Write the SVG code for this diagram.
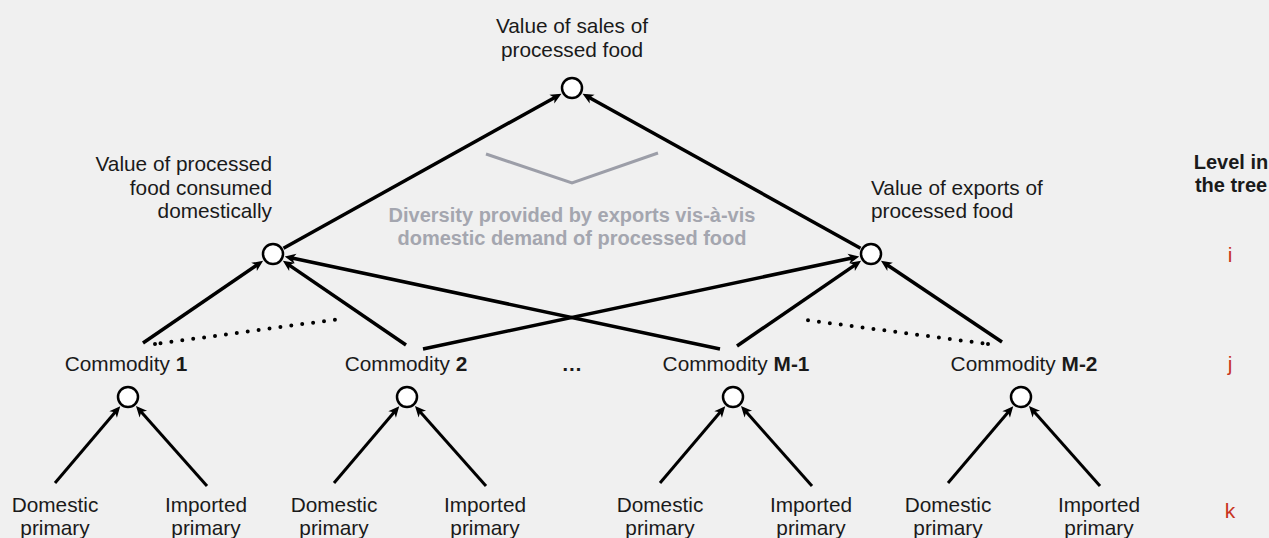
<svg xmlns="http://www.w3.org/2000/svg" width="1269" height="538" viewBox="0 0 1269 538">
  <defs>
    <marker id="arr" markerUnits="userSpaceOnUse" markerWidth="14" markerHeight="12" refX="6" refY="5" orient="auto" overflow="visible">
      <path d="M0,0 L11,5 L0,10 L3,5 Z" fill="#000"/>
    </marker>
    <style>
      .t { font-family: "Liberation Sans", Arial, sans-serif; font-size: 20.8px; fill: #1a1a1a; }
      .b { font-weight: bold; }
      .lg { font-size: 20px; }
      .g { font-family: "Liberation Sans", Arial, sans-serif; font-size: 20px; font-weight: bold; fill: #a4a6af; }
      .r { font-family: "Liberation Sans", Arial, sans-serif; font-size: 21px; fill: #c8341e; }
      .n { fill: #fff; stroke: #000; stroke-width: 2.5; }
      .e { stroke: #000; stroke-width: 3.5; fill: none; marker-end: url(#arr); }
      .eb { stroke: #000; stroke-width: 3; fill: none; marker-end: url(#arr); }
      .d { stroke: #000; stroke-width: 4; stroke-linecap: round; stroke-dasharray: 0 11; fill: none; }
    </style>
  </defs>
  <rect width="1269" height="538" fill="#f0f0f0"/>

  <g id="connectors">
    <line class="e" x1="283.5" y1="248.2" x2="557.1" y2="96.2"/>
    <line class="e" x1="860.5" y1="248.2" x2="586.9" y2="96.2"/>
    <line class="e" x1="143" y1="343" x2="259" y2="263.6"/>
    <line class="e" x1="406" y1="345" x2="287" y2="263.6"/>
    <line class="e" x1="423" y1="349" x2="854.4" y2="257.5"/>
    <line class="e" x1="720" y1="349" x2="289.6" y2="257.5"/>
    <line class="e" x1="737" y1="346" x2="857" y2="263.6"/>
    <line class="e" x1="1002" y1="342" x2="885.1" y2="263.5"/>
    <path class="d" d="M155,344 L160.5,343.3 M160.5,343.3 L340,319"/>
    <path class="d" d="M988,344 L982.5,343.3 M982.5,343.3 L806,320"/>
    <line class="eb" x1="55" y1="483" x2="117" y2="410"/>
    <line class="eb" x1="207" y1="486" x2="139.3" y2="409.7"/>
    <line class="eb" x1="334" y1="483" x2="396" y2="410"/>
    <line class="eb" x1="486" y1="486" x2="418.3" y2="409.7"/>
    <line class="eb" x1="660" y1="483" x2="722" y2="410"/>
    <line class="eb" x1="812" y1="486" x2="744.3" y2="409.7"/>
    <line class="eb" x1="948" y1="483" x2="1010" y2="410"/>
    <line class="eb" x1="1100" y1="486" x2="1032.3" y2="409.7"/>
  </g>

  <g id="diversity">
    <polyline points="486,154 572,183 658,153" fill="none" stroke="#9c9ea8" stroke-width="3"/>
    <text class="g" text-anchor="middle"><tspan x="572" y="222">Diversity provided by exports vis-à-vis</tspan><tspan x="572" y="245">domestic demand of processed food</tspan></text>
  </g>

  <g id="node-sales">
    <circle class="n" cx="572" cy="88" r="10"/>
    <text class="t" text-anchor="middle"><tspan x="572" y="33">Value of sales of</tspan><tspan x="572" y="57">processed food</tspan></text>
  </g>
  <g id="node-domestic">
    <circle class="n" cx="273" cy="254" r="10"/>
    <text class="t" text-anchor="end"><tspan x="272" y="171">Value of processed</tspan><tspan x="272" y="194.5">food consumed</tspan><tspan x="272" y="218">domestically</tspan></text>
  </g>
  <g id="node-exports">
    <circle class="n" cx="871" cy="254" r="10"/>
    <text class="t"><tspan x="871" y="194.5">Value of exports of</tspan><tspan x="871" y="218">processed food</tspan></text>
  </g>

  <g id="node-c1">
    <text class="t" x="126" y="371" text-anchor="middle">Commodity <tspan class="b">1</tspan></text>
    <circle class="n" cx="128" cy="397" r="10"/>
  </g>
  <g id="node-c2">
    <text class="t" x="406" y="371" text-anchor="middle">Commodity <tspan class="b">2</tspan></text>
    <circle class="n" cx="407" cy="397" r="10"/>
  </g>
  <g id="ellipsis">
    <text class="t b" x="572" y="371" text-anchor="middle">…</text>
  </g>
  <g id="node-cm1">
    <text class="t" x="736" y="371" text-anchor="middle">Commodity <tspan class="b">M-1</tspan></text>
    <circle class="n" cx="733" cy="397" r="10"/>
  </g>
  <g id="node-cm2">
    <text class="t" x="1024" y="371" text-anchor="middle">Commodity <tspan class="b">M-2</tspan></text>
    <circle class="n" cx="1021" cy="397" r="10"/>
  </g>

  <g id="leaf-d1"><text class="t" text-anchor="middle"><tspan x="55" y="512">Domestic</tspan><tspan x="55" y="535">primary</tspan></text></g>
  <g id="leaf-i1"><text class="t" text-anchor="middle"><tspan x="206" y="512">Imported</tspan><tspan x="206" y="535">primary</tspan></text></g>
  <g id="leaf-d2"><text class="t" text-anchor="middle"><tspan x="334" y="512">Domestic</tspan><tspan x="334" y="535">primary</tspan></text></g>
  <g id="leaf-i2"><text class="t" text-anchor="middle"><tspan x="485" y="512">Imported</tspan><tspan x="485" y="535">primary</tspan></text></g>
  <g id="leaf-d3"><text class="t" text-anchor="middle"><tspan x="660" y="512">Domestic</tspan><tspan x="660" y="535">primary</tspan></text></g>
  <g id="leaf-i3"><text class="t" text-anchor="middle"><tspan x="811" y="512">Imported</tspan><tspan x="811" y="535">primary</tspan></text></g>
  <g id="leaf-d4"><text class="t" text-anchor="middle"><tspan x="948" y="512">Domestic</tspan><tspan x="948" y="535">primary</tspan></text></g>
  <g id="leaf-i4"><text class="t" text-anchor="middle"><tspan x="1099" y="512">Imported</tspan><tspan x="1099" y="535">primary</tspan></text></g>

  <g id="legend">
    <text class="t b lg" text-anchor="middle"><tspan x="1231" y="169">Level in</tspan><tspan x="1231" y="192">the tree</tspan></text>
    <text class="r" x="1230" y="262" text-anchor="middle">i</text>
    <text class="r" x="1230" y="371" text-anchor="middle">j</text>
    <text class="r" x="1230" y="518" text-anchor="middle">k</text>
  </g>
</svg>
